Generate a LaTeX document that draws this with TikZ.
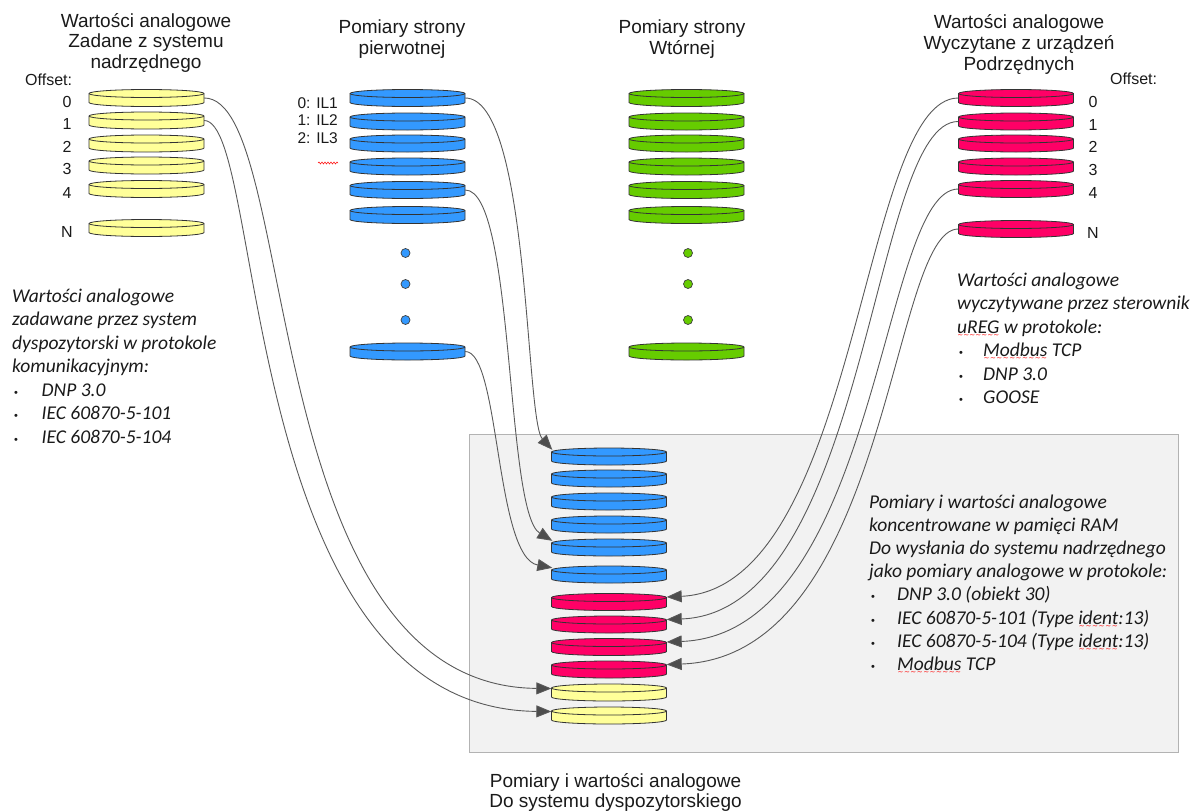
\documentclass[tikz,border=0pt]{standalone}
\usepackage{fontspec}
\setmainfont{Liberation Sans}
\newfontfamily\calfont{Carlito}
\newfontfamily\djv{DejaVu Sans}
\usetikzlibrary{arrows.meta,decorations.pathmorphing}
\newsavebox\wavebox
\newcommand\redwave[1]{\sbox\wavebox{#1}\rlap{\raisebox{-4pt}[0pt][0pt]{\textcolor{red}{\hbox to \wd\wavebox{\djv\upshape\fontsize{7}{7}\selectfont\xleaders\hbox{∼}\hfil}}}}\usebox\wavebox}
\definecolor{ylw}{HTML}{FFFF99}
\definecolor{blu}{HTML}{3399FF}
\definecolor{grn}{HTML}{66CC00}
\definecolor{rd}{HTML}{FF0066}
\definecolor{boxfill}{HTML}{F2F2F2}
\definecolor{boxline}{HTML}{B3B3B3}
\definecolor{connc}{HTML}{595959}
\definecolor{tipc}{HTML}{4D4D4D}
\definecolor{txt}{HTML}{1A1A1A}
\newcommand\bul[1][28pt]{\makebox[#1][l]{\hspace{2pt}\normalfont\fontsize{11}{11}\selectfont•}}
\newcommand\dsk[4]{%
  \node[diskbox] (#1) at (#2,-#3) {};
  \filldraw[diskline,fill=#4] (#2-57.5,-#3+4.5) -- (#2-57.5,-#3-4.5)
    arc[start angle=180,end angle=360,x radius=57.5pt,y radius=4pt]
    -- (#2+57.5,-#3+4.5)
    arc[start angle=0,end angle=180,x radius=57.5pt,y radius=4pt] -- cycle;
  \draw[diskline] (#2-57.5,-#3+4.5) arc[start angle=180,end angle=360,x radius=57.5pt,y radius=4pt];
}
\tikzset{
  diskbox/.style={rectangle,minimum width=115pt,minimum height=17pt,inner sep=0pt,draw=none},
  diskline/.style={draw=black!80,line width=0.8pt},
  dot/.style={circle,minimum size=9pt,inner sep=0pt,draw=black!75,line width=0.7pt},
  title/.style={font=\fontsize{19}{21}\selectfont,align=center,inner sep=0pt,text=txt},
  small/.style={font=\fontsize{16}{16}\selectfont,inner sep=0pt,text=txt},
  lbl/.style={font=\fontsize{15.5}{17.5}\selectfont,inner sep=0pt,text=txt,align=right},
  itxt/.style={font=\calfont\itshape\fontsize{19.5}{23.5}\selectfont,align=left,inner sep=0pt,text=txt},
  conn/.style={draw=connc,line width=0.9pt,-{Triangle[length=15pt,width=12pt,fill=tipc]}},
  wavy/.style={draw=red,line width=0.5pt,decorate,decoration={snake,amplitude=1pt,segment length=3pt}}
}
\begin{document}
\begin{tikzpicture}[x=1pt,y=1pt]
\useasboundingbox (0,0) rectangle (1190,-811);
% gray box
\node[draw=boxline,fill=boxfill,line width=1.2pt,minimum width=709pt,minimum height=318pt,inner sep=0pt,anchor=north west] (ram) at (469,-434) {};
% titles (base anchor = last line baseline)
\node[title,anchor=base,font=\fontsize{19}{20.5}\selectfont] (t1) at (146,-68) {Wartości analogowe\\Zadane z systemu\\nadrzędnego};
\node[title,anchor=base] (t2) at (402,-54) {Pomiary strony\\pierwotnej};
\node[title,anchor=base] (t3) at (682,-54) {Pomiary strony\\Wtórnej};
\node[title,anchor=base] (t4) at (1019,-70.5) {Wartości analogowe\\Wyczytane z urządzeń\\Podrzędnych};
\node[title,anchor=base,font=\fontsize{19}{20.5}\selectfont] (t5) at (615.5,-807.5) {Pomiary i wartości analogowe\\Do systemu dyspozytorskiego};
% offset labels
\node[small,anchor=base west] (offl) at (25,-85) {Offset:};
\node[small,anchor=base west] (offr) at (1110,-84) {Offset:};
\foreach \n/\y in {0/98,1/120.5,2/143.5,3/165.5,4/189,N/228}{
  \node[small,anchor=base] (ln\n) at (67,-\y-9) {\n};}
\foreach \n/\y in {0/98,1/121.5,2/143.5,3/166.5,4/189,N/229}{
  \node[small,anchor=base] (rn\n) at (1093,-\y-9) {\n};}
\node[lbl,anchor=base east] (il1) at (338,-108) {0: IL1};
\node[lbl,anchor=base east] (il2) at (338,-125) {1: IL2};
\node[lbl,anchor=base east] (il3) at (338,-143) {2: IL3};
\coordinate (w1) at (318,-163);
\coordinate (w2) at (338,-163);
\draw[wavy] (w1) -- (w2);
% left yellow disks
\dsk{ly0}{146.5}{98}{ylw}
\dsk{ly1}{146.5}{120.5}{ylw}
\dsk{ly2}{146.5}{143.5}{ylw}
\dsk{ly3}{146.5}{165.5}{ylw}
\dsk{ly4}{146.5}{189}{ylw}
\dsk{lyN}{146.5}{228}{ylw}
% blue disks
\dsk{b0}{407.5}{98}{blu}
\dsk{b1}{407.5}{121.5}{blu}
\dsk{b2}{407.5}{143.5}{blu}
\dsk{b3}{407.5}{166.5}{blu}
\dsk{b4}{407.5}{190}{blu}
\dsk{b5}{407.5}{215}{blu}
\dsk{bN}{407.5}{351.5}{blu}
\node[dot,fill=blu] (bd1) at (405.5,-253) {};
\node[dot,fill=blu] (bd2) at (405.5,-284) {};
\node[dot,fill=blu] (bd3) at (405.5,-320) {};
% green disks
\dsk{g0}{686.5}{98}{grn}
\dsk{g1}{686.5}{121.5}{grn}
\dsk{g2}{686.5}{143.5}{grn}
\dsk{g3}{686.5}{166.5}{grn}
\dsk{g4}{686.5}{190}{grn}
\dsk{g5}{686.5}{215}{grn}
\dsk{gN}{686.5}{351.5}{grn}
\node[dot,fill=grn] (gd1) at (688,-253) {};
\node[dot,fill=grn] (gd2) at (688,-284) {};
\node[dot,fill=grn] (gd3) at (688,-320) {};
% right red disks
\dsk{r0}{1016}{98}{rd}
\dsk{r1}{1016}{121.5}{rd}
\dsk{r2}{1016}{143.5}{rd}
\dsk{r3}{1016}{166.5}{rd}
\dsk{r4}{1016}{189}{rd}
\dsk{rN}{1016}{229}{rd}
% central stack
\dsk{cb0}{609}{456.5}{blu}
\dsk{cb1}{609}{478.5}{blu}
\dsk{cb2}{609}{501.5}{blu}
\dsk{cb3}{609}{524.5}{blu}
\dsk{cb4}{609}{547.5}{blu}
\dsk{cb5}{609}{574.5}{blu}
\dsk{cr0}{609}{602}{rd}
\dsk{cr1}{609}{624.5}{rd}
\dsk{cr2}{609}{647}{rd}
\dsk{cr3}{609}{669.5}{rd}
\dsk{cy0}{609}{692.5}{ylw}
\dsk{cy1}{609}{715.5}{ylw}
% connectors
\draw[conn] (ly0.east) .. controls (300,-98) and (255,-686) .. ([yshift=4pt]cy0.west);
\draw[conn] (ly1.east) .. controls (265,-121) and (238,-709) .. ([yshift=4pt]cy1.west);
\draw[conn] (b0.east) .. controls (530,-98) and (525,-420) .. ([xshift=1pt,yshift=-2pt]cb0.north west);
\draw[conn] (b4.east) .. controls (515,-190) and (505,-512) .. ([xshift=1pt,yshift=-2pt]cb4.north west);
\draw[conn] (bN.east) .. controls (500,-351) and (495,-557) .. ([xshift=1pt,yshift=-2pt]cb5.north west);
\draw[conn] (r0.west) .. controls (860,-98) and (860,-588) .. ([yshift=5pt]cr0.east);
\draw[conn] (r1.west) .. controls (870,-121) and (870,-612) .. ([yshift=5pt]cr1.east);
\draw[conn] (r4.west) .. controls (880,-189) and (880,-634) .. ([yshift=5pt]cr2.east);
\draw[conn] (rN.west) .. controls (890,-229) and (890,-657) .. ([yshift=5pt]cr3.east);
% italic text blocks (base anchor = last line baseline)
\node[itxt,anchor=base west] (ltxt) at (12,-443) {Wartości analogowe\\zadawane przez system\\dyspozytorski w protokole\\komunikacyjnym:\\\bul[29.5pt]DNP 3.0\\\bul[29.5pt]IEC 60870-5-101\\\bul[29.5pt]IEC 60870-5-104};
\node[itxt,anchor=base west] (rtxt) at (957,-403.5) {Wartości analogowe\\wyczytywane przez sterownik\\\redwave{uREG} w protokole:\\\bul[26pt]\redwave{Modbus} TCP\\\bul[26pt]DNP 3.0\\\bul[26pt]GOOSE};
\node[itxt,anchor=base west,font=\calfont\itshape\fontsize{19.5}{23.2}\selectfont] (ctxt) at (869,-670.5) {Pomiary i wartości analogowe\\koncentrowane w pamięci RAM\\Do wysłania do systemu nadrzędnego\\jako pomiary analogowe w protokole:\\\bul DNP 3.0 (obiekt 30)\\\bul IEC 60870-5-101 (Type \redwave{ident}:13)\\\bul IEC 60870-5-104 (Type \redwave{ident}:13)\\\bul \redwave{Modbus} TCP};
\end{tikzpicture}
\end{document}
